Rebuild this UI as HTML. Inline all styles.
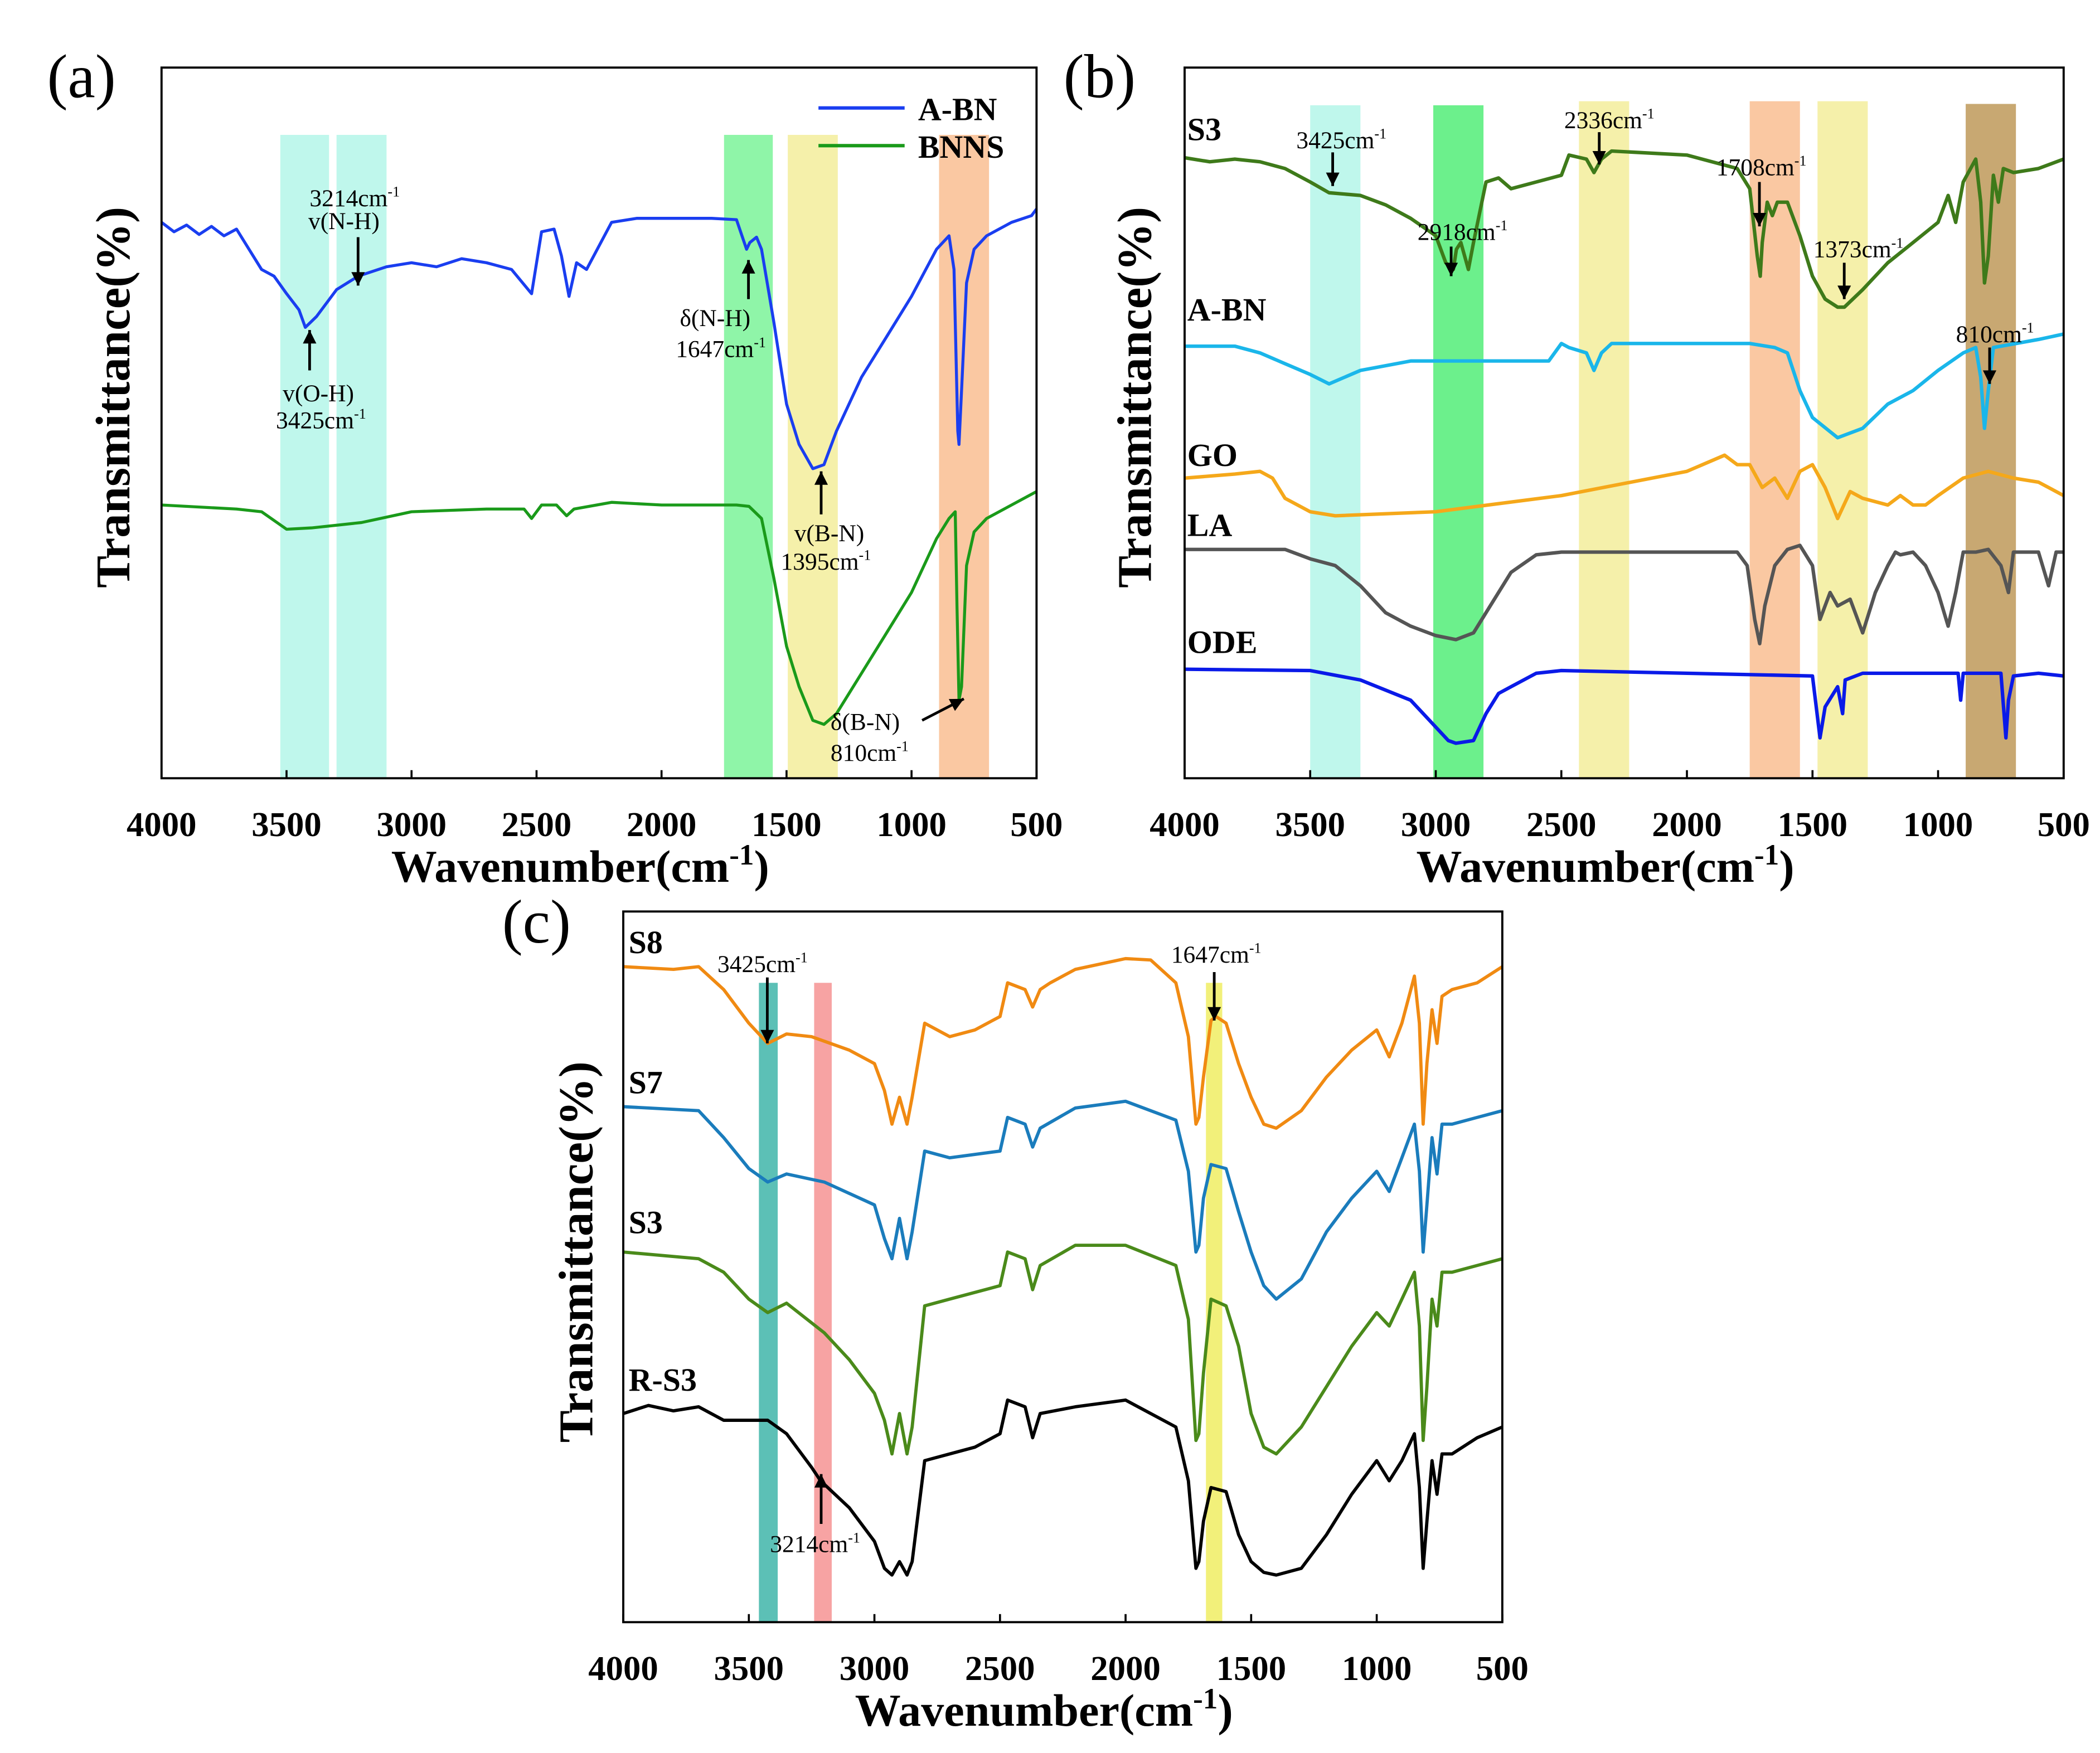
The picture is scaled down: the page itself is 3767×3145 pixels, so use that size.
<!DOCTYPE html>
<html><head><meta charset="utf-8"><style>
html,body{margin:0;padding:0;background:#fff;}
svg{display:block;}
text{font-family:"Liberation Serif",serif;}
</style></head><body>
<svg id="fig" xmlns="http://www.w3.org/2000/svg" width="3767" height="3145" viewBox="0 0 1560 1302"></svg>
<script>
// ---------- DATA (wavenumber cm-1, transmittance arbitrary units) ----------
const ticksX = [4000,3500,3000,2500,2000,1500,1000,500];
// Panel (a)
const aABN = [[4000,435],[3950,428],[3900,433],[3850,426],[3800,432],[3750,425],[3700,430],[3650,415],[3600,400],[3550,395],[3500,382],[3450,370],[3425,357],[3380,365],[3300,385],[3214,395],[3100,402],[3000,405],[2900,402],[2800,408],[2700,405],[2600,400],[2520,382],[2480,428],[2430,430],[2400,410],[2370,380],[2340,405],[2300,400],[2200,435],[2100,438],[1800,438],[1700,437],[1660,415],[1647,420],[1620,424],[1600,415],[1550,360],[1500,300],[1450,270],[1395,252],[1350,255],[1300,280],[1200,320],[1100,350],[1000,380],[900,415],[850,425],[830,400],[815,280],[810,270],[800,310],[780,390],[750,415],[700,425],[600,435],[520,440],[500,445]];
const aBNNS = [[4000,225],[3700,222],[3600,220],[3500,207],[3400,208],[3200,212],[3000,220],[2700,222],[2550,222],[2520,215],[2480,225],[2420,225],[2380,217],[2350,222],[2200,227],[2000,225],[1700,225],[1650,224],[1600,215],[1550,170],[1500,120],[1450,90],[1395,65],[1350,62],[1300,70],[1200,100],[1100,130],[1000,160],[900,200],[850,215],[825,220],[818,150],[810,80],[800,90],[780,180],[750,205],[700,215],[600,225],[500,235]];
// Panel (b)
const bS3 = [[4000,483],[3900,480],[3800,482],[3700,480],[3600,475],[3500,465],[3425,457],[3300,455],[3200,448],[3100,438],[3000,425],[2960,405],[2930,400],[2918,415],[2900,420],[2870,400],[2850,420],[2800,465],[2750,468],[2700,460],[2600,465],[2500,470],[2470,485],[2400,482],[2370,472],[2340,482],[2300,488],[2000,485],[1800,475],[1750,460],[1720,410],[1708,395],[1700,420],[1680,450],[1660,440],[1640,450],[1600,450],[1550,425],[1500,395],[1450,378],[1400,372],[1373,372],[1300,385],[1200,405],[1100,420],[1000,435],[960,455],[930,435],[900,465],[850,482],[830,450],[815,390],[800,410],[780,470],[760,450],[740,475],[700,472],[600,475],[500,482]];
const bABN = [[4000,343],[3800,343],[3700,338],[3600,330],[3500,322],[3425,315],[3300,325],[3100,332],[2900,332],[2700,332],[2550,332],[2500,345],[2470,342],[2400,338],[2370,325],[2340,338],[2300,345],[2000,345],[1750,345],[1650,342],[1600,338],[1550,310],[1500,290],[1400,275],[1300,282],[1200,300],[1100,310],[1000,325],[900,338],[850,342],[830,320],[815,282],[800,310],[780,342],[600,348],[500,352]];
const bGO = [[4000,245],[3800,248],[3700,250],[3650,245],[3600,230],[3500,220],[3400,217],[3000,220],[2500,232],[2000,250],[1850,262],[1800,255],[1750,255],[1700,238],[1650,245],[1600,230],[1550,250],[1500,255],[1450,238],[1400,215],[1350,235],[1300,230],[1200,225],[1150,232],[1100,225],[1050,225],[1000,232],[900,245],[800,250],[700,245],[600,242],[500,232]];
const bLA = [[4000,192],[3600,192],[3500,185],[3400,180],[3300,165],[3200,145],[3100,135],[3000,128],[2920,125],[2850,130],[2800,145],[2700,175],[2600,188],[2500,190],[2000,190],[1800,190],[1760,180],[1730,140],[1710,122],[1690,150],[1650,180],[1600,192],[1550,195],[1500,180],[1470,140],[1430,160],[1400,150],[1350,155],[1300,130],[1250,160],[1200,180],[1170,190],[1150,188],[1100,190],[1050,180],[1000,160],[960,135],[930,160],[900,190],[850,190],[800,192],[750,180],[720,160],[700,190],[600,190],[560,165],[530,190],[500,190]];
const bODE = [[4000,103],[3500,102],[3300,95],[3100,80],[3000,60],[2950,50],[2920,48],[2850,50],[2800,70],[2750,85],[2700,90],[2600,100],[2500,102],[2000,100],[1500,98],[1470,52],[1450,75],[1400,90],[1380,70],[1370,95],[1300,100],[1000,100],[920,100],[910,80],[900,100],[750,100],[730,52],[720,80],[700,98],[600,100],[500,98]];
// Panel (c)
const cS8 = [[4000,582],[3800,580],[3700,582],[3600,565],[3500,540],[3425,525],[3350,532],[3250,530],[3100,520],[3000,510],[2960,490],[2930,465],[2900,485],[2870,465],[2850,485],[2800,540],[2700,530],[2600,535],[2500,545],[2470,570],[2400,565],[2370,552],[2340,565],[2300,570],[2200,580],[2000,588],[1900,587],[1800,570],[1750,530],[1720,465],[1708,470],[1690,500],[1660,542],[1640,545],[1600,540],[1550,510],[1500,485],[1450,465],[1400,462],[1300,475],[1200,500],[1100,520],[1000,535],[950,515],[900,540],[850,575],[830,540],[815,465],[800,510],[780,550],[760,525],[740,560],[700,565],[600,570],[500,582]];
const cS7 = [[4000,478],[3700,475],[3600,455],[3500,432],[3425,422],[3350,428],[3200,422],[3000,405],[2960,380],[2930,365],[2900,395],[2870,365],[2850,385],[2800,445],[2700,440],[2500,445],[2470,470],[2400,465],[2370,448],[2340,462],[2200,477],[2000,482],[1800,468],[1750,430],[1720,370],[1708,375],[1690,410],[1660,435],[1600,432],[1550,400],[1500,370],[1450,345],[1400,335],[1300,350],[1200,385],[1100,410],[1000,430],[950,415],[900,440],[850,465],[830,430],[815,370],[800,405],[780,455],[760,428],[740,465],[700,465],[600,470],[500,475]];
const cS3 = [[4000,370],[3700,365],[3600,355],[3500,335],[3425,325],[3350,332],[3200,310],[3100,290],[3000,265],[2960,245],[2930,220],[2900,250],[2870,220],[2850,240],[2800,330],[2700,335],[2500,345],[2470,370],[2400,365],[2370,342],[2340,360],[2200,375],[2000,375],[1800,360],[1750,320],[1720,230],[1708,235],[1690,280],[1660,335],[1600,330],[1550,300],[1500,250],[1450,225],[1400,220],[1300,240],[1200,270],[1100,300],[1000,325],[950,315],[900,335],[850,355],[830,315],[815,230],[800,270],[780,335],[760,315],[740,355],[700,355],[600,360],[500,365]];
const cRS3 = [[4000,250],[3900,256],[3800,252],[3700,255],[3600,245],[3500,245],[3425,245],[3350,235],[3250,210],[3214,200],[3100,180],[3000,155],[2960,135],[2930,130],[2900,140],[2870,130],[2850,140],[2800,215],[2700,220],[2600,225],[2500,235],[2470,260],[2400,255],[2370,232],[2340,250],[2200,255],[2000,260],[1800,240],[1750,200],[1720,135],[1708,140],[1690,170],[1660,195],[1600,192],[1550,160],[1500,140],[1450,132],[1400,130],[1300,135],[1200,160],[1100,190],[1000,215],[950,200],[900,215],[850,235],[830,195],[815,135],[800,170],[780,215],[760,190],[740,220],[700,220],[600,232],[500,240]];

// ---------- DRAWING ----------
const NS='http://www.w3.org/2000/svg';
const svg=document.getElementById('fig');
function mk(tag,attrs,parent){const e=document.createElementNS(NS,tag);for(const k in attrs)e.setAttribute(k,attrs[k]);(parent||svg).appendChild(e);return e;}
function txt(s,x,y,size,weight,anchor,parent,sup){
  const t=mk('text',{x:x,y:y,'font-size':size,'font-weight':weight||'normal','text-anchor':anchor||'start',fill:'#000'},parent);
  t.textContent=s;
  if(sup){const ts=mk('tspan',{dy:-size*0.4,'font-size':size*0.6},t);ts.textContent=sup;const ts2=mk('tspan',{dy:size*0.4},t);ts2.textContent='';}
  return t;
}
function panel(cfg){
  const g=mk('g',{});
  
  
  const L=cfg.left,R=cfg.right,T=cfg.top,B=cfg.bottom;
  const xs=w=>L+(4000-w)/3500*(R-L);
  const ys=v=>cfg.base-v;
  for(const b of cfg.bands){
    const r=mk('rect',{x:xs(b[0]),y:b[3],width:xs(b[1])-xs(b[0]),height:B-b[3],fill:b[2]},g);
    
    
  }
  for(const s of cfg.series){
    const d=s.data.map((p,i)=>(i?'L':'M')+xs(p[0]).toFixed(1)+','+ys(p[1]).toFixed(1)).join(' ');
    const p=mk('path',{d:d,fill:'none',stroke:s.color,'stroke-width':s.w||2.2,'stroke-linejoin':'round'},g);
    
    
  }
  const fr=mk('rect',{x:L,y:T,width:R-L,height:B-T,fill:'none',stroke:'#000','stroke-width':1.6},g);
  
  
  for(const t of ticksX){
    mk('line',{x1:xs(t),x2:xs(t),y1:B,y2:B-6,stroke:'#000','stroke-width':1.5},g);
    const lab=txt(String(t),xs(t),B+43,26,'bold','middle',g);
    
    
  }
  const xt=txt('Wavenumber(cm',(L+R)/2-14,B+77,34,'bold','middle',g);
  const s1=mk('tspan',{dy:-13,'font-size':22},xt);s1.textContent='-1';
  const s2=mk('tspan',{dy:13},xt);s2.textContent=')';
  
  
  const yt=mk('text',{x:0,y:0,'font-size':36,'font-weight':'bold','text-anchor':'middle',transform:`translate(${cfg.ytx},${cfg.yty}) rotate(-90)`},g);
  yt.textContent='Transmittance(%)';
  
  
  const pl=txt(cfg.letter,cfg.lx,cfg.ly,46,'normal','start',g);
  
  
  for(const l of cfg.labels){
    const t=txt(l[0],l[1],l[2],24,'bold','start',g);
    
    
  }
  for(const a of cfg.notes){
    const t=txt(a[0],a[1],a[2],18,'normal','start',g,a[3]);
    
    
  }
  for(const a of cfg.arrows){
    const [x1,y1,x2,y2]=a;
    mk('line',{x1:x1,y1:y1,x2:x2,y2:y2,stroke:'#000','stroke-width':2},g);
    const ang=Math.atan2(y2-y1,x2-x1),h=10,wd=5;
    const bx=x2-h*Math.cos(ang),by=y2-h*Math.sin(ang);
    const ar=mk('polygon',{points:`${x2},${y2} ${bx+wd*Math.sin(ang)},${by-wd*Math.cos(ang)} ${bx-wd*Math.sin(ang)},${by+wd*Math.cos(ang)}`,fill:'#000'},g);
    
    
  }
  return g;
}
// Panel a
const ga=panel({name:'panel-a',left:120,right:770,top:50,bottom:578,base:600,letter:'(a)',lx:35,ly:72,ytx:96,yty:295,
  bands:[[3525,3330,'#bff7ec',100],[3300,3100,'#bff7ec',100],[1750,1555,'#8ff5a8',100],[1495,1295,'#f5f0aa',100],[890,690,'#fac8a2',100]],
  series:[{id:'a-bn',data:aABN,color:'#1a3ef0'},{id:'bnns',data:aBNNS,color:'#1a9a1a'}],
  labels:[],
  notes:[['3214cm',230,153,'-1'],['v(N-H)',229,170],['v(O-H)',210,298],['3425cm',205,318,'-1'],['δ(N-H)',505,242],['1647cm',502,265,'-1'],['v(B-N)',590,402],['1395cm',580,423,'-1'],['δ(B-N)',617,542],['810cm',617,565,'-1']],
  arrows:[[266,176,266,212],[230,275,230,245],[556,222,556,193],[610,382,610,350],[685,535,716,519]]});
// legend
[['A-BN','#1a3ef0',80],['BNNS','#1a9a1a',108]].forEach(l=>{
  const ln=mk('line',{x1:608,x2:672,y1:l[2],y2:l[2],stroke:l[1],'stroke-width':2.5},ga);
  
  
  const t=txt(l[0],682,l[2]+9,24,'bold','start',ga);
  
  
});
// Panel b
panel({name:'panel-b',left:880,right:1533,top:50,bottom:578,base:600,letter:'(b)',lx:790,ly:72,ytx:855,yty:295,
  bands:[[3500,3300,'#bff7ec',78],[3010,2810,'#6cf08c',78],[2430,2230,'#f5f0aa',75],[1750,1550,'#fac8a2',75],[1480,1280,'#f5f0aa',75],[890,690,'#c8a872',77]],
  series:[{id:'s3',data:bS3,color:'#3e7a1a',w:2.6},{id:'a-bn-b',data:bABN,color:'#1ab6ea',w:2.6},{id:'go',data:bGO,color:'#f5a81a',w:2.6},{id:'la',data:bLA,color:'#555555',w:2.6},{id:'ode',data:bODE,color:'#0a1ae8',w:2.6}],
  labels:[['S3',882,104],['A-BN',882,238],['GO',882,346],['LA',882,398],['ODE',882,485]],
  notes:[['3425cm',963,110,'-1'],['2918cm',1053,178,'-1'],['2336cm',1162,95,'-1'],['1708cm',1275,130,'-1'],['1373cm',1347,191,'-1'],['810cm',1453,254,'-1']],
  arrows:[[990,113,990,138],[1078,183,1078,205],[1188,98,1188,122],[1307,135,1307,168],[1370,195,1370,222],[1478,258,1478,285]]});
// Panel c
panel({name:'panel-c',left:463,right:1116,top:677,bottom:1205,base:1300,letter:'(c)',lx:373,ly:700,ytx:440,yty:930,
  bands:[[3460,3385,'#5cc0b6',730],[3240,3170,'#f7a3a3',730],[1680,1615,'#f2f07a',730]],
  series:[{id:'s8',data:cS8,color:'#f08a12',w:2.4},{id:'s7',data:cS7,color:'#1a7cbc',w:2.4},{id:'s3-c',data:cS3,color:'#4a8a1a',w:2.4},{id:'r-s3',data:cRS3,color:'#000000',w:2.4}],
  labels:[['S8',467,708],['S7',467,812],['S3',467,916],['R-S3',467,1033]],
  notes:[['3425cm',533,722,'-1'],['1647cm',870,715,'-1'],['3214cm',572,1153,'-1']],
  arrows:[[570,726,570,775],[902,722,902,758],[610,1132,610,1095]]});
</script>
</body></html>
